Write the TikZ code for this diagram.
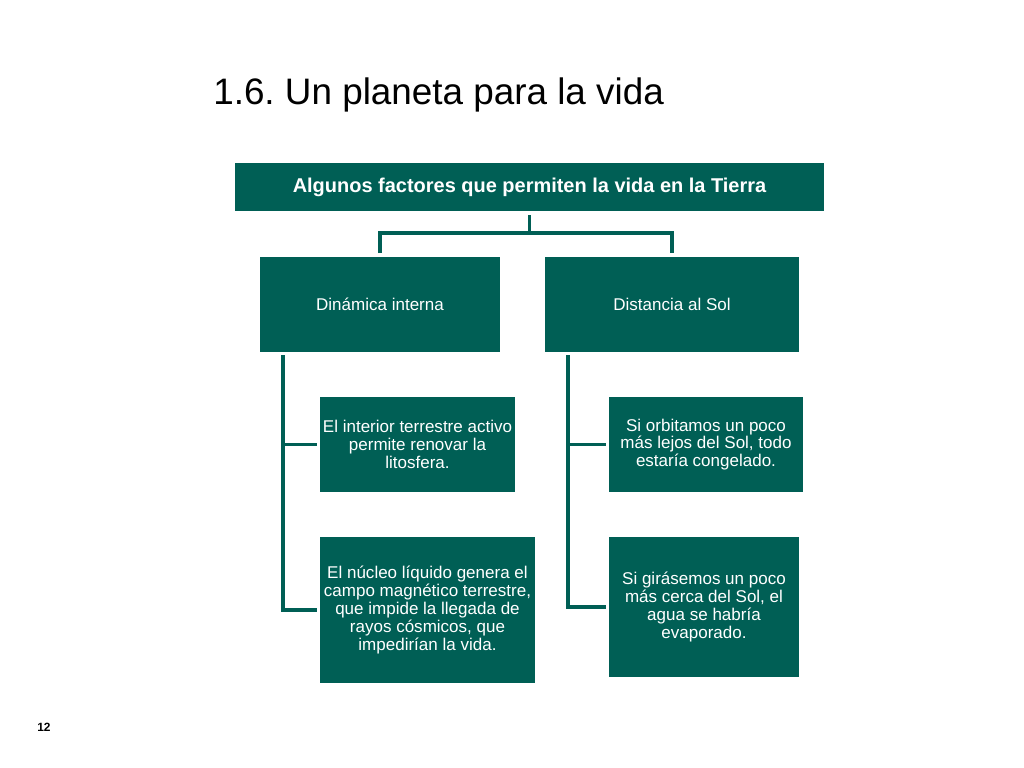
\documentclass[tikz,border=0pt]{standalone}
\usepackage{fontspec}
\setmainfont{Liberation Sans}
\frenchspacing
\definecolor{teal1}{RGB}{0,95,85}
\tikzset{
  box/.style={rectangle, fill=teal1, draw=none, inner sep=0pt, text=white, align=center},
  small/.style={font=\fontsize{12.1}{12.7}\selectfont},
  conn/.style={draw=teal1, line width=2.5pt}
}
\begin{document}
\begin{tikzpicture}[x=0.025cm,y=-0.025cm]
\useasboundingbox (0,0) rectangle (1024,768);
\node[anchor=base west, inner sep=0pt, font=\fontsize{26.2}{30}\selectfont] (title) at (213,105) {1.6. Un planeta para la vida};
\node[anchor=base west, inner sep=0pt, font=\fontsize{8.5}{10}\selectfont\bfseries] (pnum) at (37,731) {12};

\node[box, minimum width=14.725cm, minimum height=1.2cm, font=\fontsize{14.2}{16}\selectfont\bfseries] (top) at (529.5,187) {Algunos factores que permiten la vida en la Tierra};
\node[box, small, minimum width=6.0cm, minimum height=2.375cm] (din) at (380,304.5) {Dinámica interna};
\node[box, small, minimum width=6.35cm, minimum height=2.375cm] (dist) at (672,304.5) {Distancia al Sol};
\node[box, small, minimum width=4.875cm, minimum height=2.375cm] (l1) at (417.5,444.5) {El interior terrestre activo\\permite renovar la\\litosfera.};
\node[box, small, minimum width=5.375cm, minimum height=3.65cm] (l2) at (427.5,610) {El núcleo líquido genera el\\campo magnético terrestre,\\que impide la llegada de\\rayos cósmicos, que\\impedirían la vida.};
\node[box, small, minimum width=4.85cm, minimum height=2.375cm] (r1) at (706,444.5) {Si orbitamos un poco\\más lejos del Sol, todo\\estaría congelado.};
\node[box, small, minimum width=4.75cm, minimum height=3.5cm] (r2) at (704,607) {Si girásemos un poco\\más cerca del Sol, el\\agua se habría\\evaporado.};

\coordinate (topStart) at (529.5,215);
\coordinate (mid) at (529.5,233);
\coordinate (dinTop) at (380,253);
\coordinate (distTop) at (672,253);
\coordinate (spineL) at (283,355);
\coordinate (spineR) at (568,355);
\coordinate (l1end) at (317,444.5);
\coordinate (l2end) at (317,610);
\coordinate (r1end) at (606,444.5);
\coordinate (r2end) at (606,607);

\draw[conn] (topStart) -- (mid);
\draw[conn] (dinTop) |- (mid) -| (distTop);
\draw[conn] (spineL) |- (l1end);
\draw[conn] (spineL) |- (l2end);
\draw[conn] (spineR) |- (r1end);
\draw[conn] (spineR) |- (r2end);
\end{tikzpicture}
\end{document}
